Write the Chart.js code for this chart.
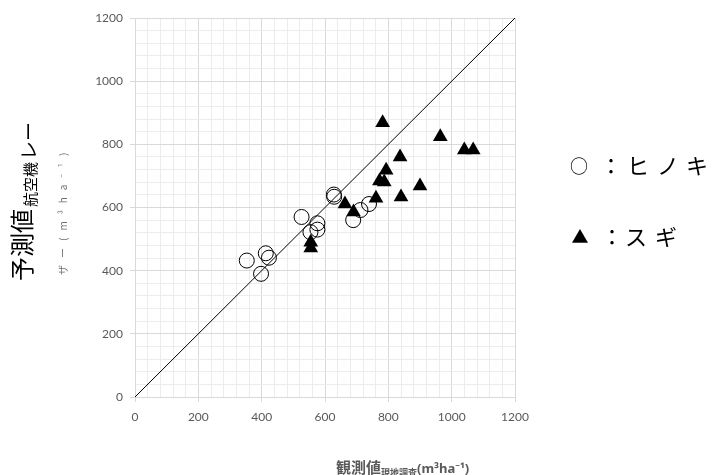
<!DOCTYPE html>
<html>
<head>
<meta charset="utf-8">
<script src="https://cdn.jsdelivr.net/npm/chart.js@4/dist/chart.umd.min.js"></script>
<style>
html,body{margin:0;padding:0;background:#fff;}
#c{display:block;}
</style>
</head>
<body>
<canvas id="c" width="716" height="475"></canvas>
<script>
// ヒノキ (circles)
const hinokiX = [353, 398, 413, 423, 526, 554, 576, 576, 628, 629, 689, 712, 739];
const hinokiY = [432, 390, 455, 441, 570, 522, 550, 530, 641, 634, 560, 592, 611];
// スギ (triangles)
const sugiX = [782, 964, 837, 793, 772, 787, 900, 840, 761, 663, 690, 1040, 1068, 555, 555];
const sugiY = [868, 824, 760, 718, 684, 681, 668, 633, 629, 611, 586, 782, 782, 490, 472];
// 1:1 line
const lineX = [0, 1200];
const lineY = [0, 1200];
// axis
const axisMin = 0, axisMax = 1200, majorStep = 200, minorStep = 40;
const yTitleMain = '予測値', yTitleSub = '航空機', yTitleSub2 = 'レー', yTitleLine2 = 'ザー(m³ha⁻¹)';
const xTitleMain = '観測値', xTitleSub = '現地調査', xTitleUnit = '(m³ha⁻¹)';
const legendHinoki = ['○', '：', 'ヒ', 'ノ', 'キ'];
const legendSugi = ['▲', '：', 'ス', 'ギ'];

const pts = (xs, ys) => xs.map((x, i) => ({x: x, y: ys[i]}));

const gridColor = ctx => (ctx.tick && ctx.tick.value % majorStep === 0) ? '#d9d9d9' : '#ececec';
const tickColor = ctx => (ctx.tick && ctx.tick.value % majorStep === 0) ? '#d9d9d9' : 'rgba(0,0,0,0)';
const tickCb = v => (v % majorStep === 0) ? String(v) : '';

const CJK = '"Noto Sans CJK JP", "Noto Sans", sans-serif';

const textPlugin = {
  id: 'texts',
  afterDraw(chart) {
    const ctx = chart.ctx;
    ctx.save();
    // Y axis title (rotated)
    ctx.save();
    ctx.rotate(-Math.PI / 2);
    ctx.fillStyle = '#000';
    ctx.textBaseline = 'alphabetic';
    ctx.textAlign = 'left';
    let x = -281;
    ctx.font = '24px ' + CJK;
    ctx.fillText(yTitleMain, x, 31);
    x += ctx.measureText(yTitleMain).width + 2;
    ctx.font = '15px ' + CJK;
    ctx.fillText(yTitleSub, x, 36);
    x += ctx.measureText(yTitleSub).width + 2;
    ctx.font = '19px ' + CJK;
    ctx.fillText(yTitleSub2, x, 36);
    // second (partially hidden) line
    ctx.fillStyle = '#6e6e6e';
    ctx.font = '10px ' + CJK;
    try { ctx.letterSpacing = '7px'; } catch (e) {}
    ctx.fillText(yTitleLine2, -275, 67);
    try { ctx.letterSpacing = '0px'; } catch (e) {}
    ctx.restore();

    // X axis title
    ctx.fillStyle = '#595959';
    ctx.textBaseline = 'alphabetic';
    ctx.textAlign = 'left';
    let px = 336;
    ctx.font = 'bold 15px ' + CJK;
    ctx.fillText(xTitleMain, px, 473);
    px += ctx.measureText(xTitleMain).width;
    ctx.font = 'bold 9px ' + CJK;
    ctx.fillText(xTitleSub, px, 476);
    px += ctx.measureText(xTitleSub).width;
    ctx.font = 'bold 13px "Noto Sans", sans-serif';
    ctx.fillText(xTitleUnit, px, 473);

    // Legend text
    ctx.fillStyle = '#000';
    ctx.textAlign = 'center';
    ctx.textBaseline = 'middle';
    const c1 = [579, 611, 638, 668, 697];
    legendHinoki.forEach((ch, i) => {
      ctx.font = (i === 0 ? '18px ' : '22px ') + CJK;
      ctx.fillText(ch, c1[i], 166);
    });
    const c2 = [580, 612, 636, 666];
    legendSugi.forEach((ch, i) => {
      ctx.font = (i === 0 ? '17px ' : '22px ') + CJK;
      ctx.fillText(ch, c2[i], 237);
    });
    ctx.restore();
  }
};

new Chart(document.getElementById('c'), {
  type: 'scatter',
  data: {
    datasets: [
      {
        label: '1:1',
        data: pts(lineX, lineY),
        showLine: true,
        borderColor: '#000',
        borderWidth: 1,
        pointRadius: 0,
        fill: false,
        order: 3
      },
      {
        label: 'ヒノキ',
        data: pts(hinokiX, hinokiY),
        pointStyle: 'circle',
        pointRadius: 7.5,
        pointBorderWidth: 1,
        pointBorderColor: '#000',
        pointBackgroundColor: 'rgba(0,0,0,0)',
        order: 2
      },
      {
        label: 'スギ',
        data: pts(sugiX, sugiY),
        pointStyle: 'triangle',
        pointRadius: 8.5,
        pointBorderWidth: 0,
        pointBorderColor: '#000',
        pointBackgroundColor: '#000',
        order: 1
      }
    ]
  },
  options: {
    responsive: false,
    animation: false,
    devicePixelRatio: 1,
    layout: {padding: {left: 0, right: 201, top: 18, bottom: 0}},
    plugins: {legend: {display: false}, tooltip: {enabled: false}},
    scales: {
      x: {
        type: 'linear',
        min: axisMin, max: axisMax,
        ticks: {
          stepSize: minorStep, maxTicksLimit: 100, autoSkip: false, maxRotation: 0,
          callback: tickCb, color: '#595959', padding: 8,
          font: {family: 'Lato, "Open Sans", sans-serif', size: 12}
        },
        grid: {color: gridColor, tickColor: tickColor, tickLength: 5, lineWidth: 1},
        border: {color: '#d9d9d9'},
        afterFit(scale) { scale.height = 78; }
      },
      y: {
        type: 'linear',
        min: axisMin, max: axisMax,
        ticks: {
          stepSize: minorStep, maxTicksLimit: 100, autoSkip: false,
          callback: tickCb, color: '#595959', padding: 7,
          font: {family: 'Lato, "Open Sans", sans-serif', size: 12}
        },
        grid: {color: gridColor, tickColor: tickColor, tickLength: 5, lineWidth: 1},
        border: {color: '#d9d9d9'},
        afterFit(scale) { scale.width = 135; }
      }
    }
  },
  plugins: [textPlugin]
});
</script>
</body>
</html>
